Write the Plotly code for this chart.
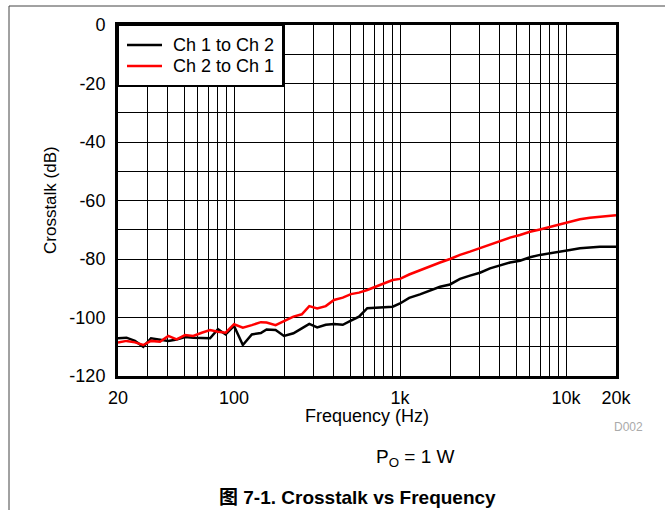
import plotly.graph_objects as go

# Frequencies (Hz) and crosstalk (dB)
freq = [20, 22.5, 25.3, 28.4, 31.6, 35.8, 40.2, 45.1, 50.7, 56.8, 63.9, 71.7, 80, 89,
        100, 113, 128, 145, 157, 178, 200, 228, 256, 284, 317, 357, 400, 452, 506, 566,
        635, 719, 805, 903, 1000, 1135, 1318, 1517, 1742, 2000, 2297, 2637, 3030, 3483,
        4000, 4594, 5278, 6063, 6964, 8000, 9190, 10557, 12127, 13931, 16004, 20000]

ch1_to_ch2 = [-107.1, -106.9, -108.0, -110.0, -107.1, -107.5, -108.0, -107.5, -106.7, -106.9,
              -106.9, -107.1, -104.0, -105.8, -102.9, -109.4, -105.8, -105.3, -104.1, -104.3,
              -106.3, -105.4, -103.7, -102.2, -103.4, -102.5, -102.2, -102.5, -101.1, -99.7,
              -96.8, -96.7, -96.6, -96.3, -95.2, -93.3, -92.1, -90.8, -89.5, -88.7,
              -86.8, -85.7, -84.7, -83.2, -82.2, -81.2, -80.6, -79.4, -78.6, -78.1,
              -77.5, -76.9, -76.3, -76.0, -75.8, -75.8]

ch2_to_ch1 = [-108.6, -108.0, -108.5, -109.4, -108.0, -108.3, -106.3, -107.5, -106.0, -106.3,
              -105.2, -104.3, -104.9, -105.2, -102.3, -103.5, -102.6, -101.6, -101.7, -102.6,
              -101.2, -99.7, -98.9, -96.1, -96.9, -96.1, -94.0, -93.2, -92.0, -91.5,
              -90.6, -89.5, -88.3, -87.2, -86.8, -85.3, -83.8, -82.6, -81.2, -80.0,
              -78.6, -77.5, -76.3, -75.0, -73.8, -72.7, -71.8, -70.7, -69.9, -69.0,
              -68.0, -67.2, -66.4, -65.9, -65.5, -65.0]

series_names = ["Ch 1 to Ch 2", "Ch 2 to Ch 1"]
series_colors = ["#000000", "#ff0000"]

# Tick / grid definitions
x_tickvals = [20, 100, 1000, 10000, 20000]
x_ticktext = ["20", "100", "1k", "10k", "20k"]
x_grid = [20, 30, 40, 50, 60, 70, 80, 90, 100, 200, 300, 400, 500, 600, 700, 800, 900,
          1000, 2000, 3000, 4000, 5000, 6000, 7000, 8000, 9000, 10000, 20000]

y_tickvals = [-120, -100, -80, -60, -40, -20, 0]
y_ticktext = ["-120", "-100", "-80", "-60", "-40", "-20", "0"]
y_grid = [-120, -110, -100, -90, -80, -70, -60, -50, -40, -30, -20, -10, 0]

FONT = "Arial, Liberation Sans, Noto Sans CJK SC, sans-serif"

fig = go.Figure()
for name, color, vals in zip(series_names, series_colors, [ch1_to_ch2, ch2_to_ch1]):
    fig.add_trace(go.Scatter(x=freq, y=vals, mode="lines", name=name,
                             line=dict(color=color, width=2.5), showlegend=False))

grid_style = dict(showgrid=True, gridcolor="#000", gridwidth=1)
fig.update_layout(
    width=665, height=510,
    margin=dict(l=118, r=49, t=25, b=134),
    paper_bgcolor="white", plot_bgcolor="white",
    font=dict(family=FONT, size=18, color="#000"),
    showlegend=False,
    xaxis=dict(type="log", range=[1.30103, 4.30103],
               tickmode="array", tickvals=x_tickvals, ticktext=x_ticktext,
               minor=dict(tickmode="array", tickvals=x_grid, ticks="", **grid_style),
               showline=True, linecolor="#000", linewidth=3, mirror=True,
               ticks="", ticklabelstandoff=3, zeroline=False, **grid_style),
    yaxis=dict(range=[-120, 0],
               tickmode="array", tickvals=y_tickvals, ticktext=y_ticktext,
               minor=dict(tickmode="array", tickvals=y_grid, ticks="", **grid_style),
               showline=True, linecolor="#000", linewidth=3, mirror=True,
               ticks="", ticklabelstandoff=6, zeroline=False, **grid_style),
)

# plot area in pixels: x 118..616, y 25..376
def px(xp):
    return (xp - 118) / 498.0

def py(yp):
    return (376 - yp) / 351.0

# legend box (drawn manually for exact spacing)
fig.add_shape(type="rect", xref="paper", yref="paper", layer="above",
              x0=px(118), x1=px(283), y0=py(86), y1=py(25),
              fillcolor="white", line=dict(color="#000", width=2))
for i, (name, color) in enumerate(zip(series_names, series_colors)):
    yy = 45 + 21 * i
    fig.add_shape(type="line", xref="paper", yref="paper", layer="above",
                  x0=px(127), x1=px(162), y0=py(yy), y1=py(yy),
                  line=dict(color=color, width=2.5))
    fig.add_annotation(text=name, xref="paper", yref="paper", showarrow=False,
                       x=px(171), y=py(yy), xanchor="left", yanchor="middle",
                       font=dict(size=18))

annos = [
    dict(text="Crosstalk (dB)", x=px(50), y=py(200), textangle=-90, font=dict(size=17)),
    dict(text="Frequency (Hz)", x=px(367), y=py(416), font=dict(size=18)),
    dict(text="D002", x=px(628), y=py(427), font=dict(size=12, color="#aaaaaa")),
    dict(text="P<sub>O</sub> = 1 W", x=px(415), y=py(458), font=dict(size=19)),
    dict(text="<b>图 7-1. Crosstalk vs Frequency</b>", x=px(357), y=py(497), font=dict(size=19)),
]
for a in annos:
    fig.add_annotation(xref="paper", yref="paper", showarrow=False,
                       xanchor="center", yanchor="middle", **a)

# outer frame (left and top edges)
fig.add_shape(type="line", xref="paper", yref="paper", x0=px(9), x1=px(9), y0=py(6), y1=py(512),
              line=dict(color="#444", width=1))
fig.add_shape(type="line", xref="paper", yref="paper", x0=px(9), x1=px(667), y0=py(6), y1=py(6),
              line=dict(color="#444", width=1))

fig.write_html("out.html", config={"displayModeBar": False},
               post_script="document.body.style.margin='0';document.body.style.overflow='hidden';")
